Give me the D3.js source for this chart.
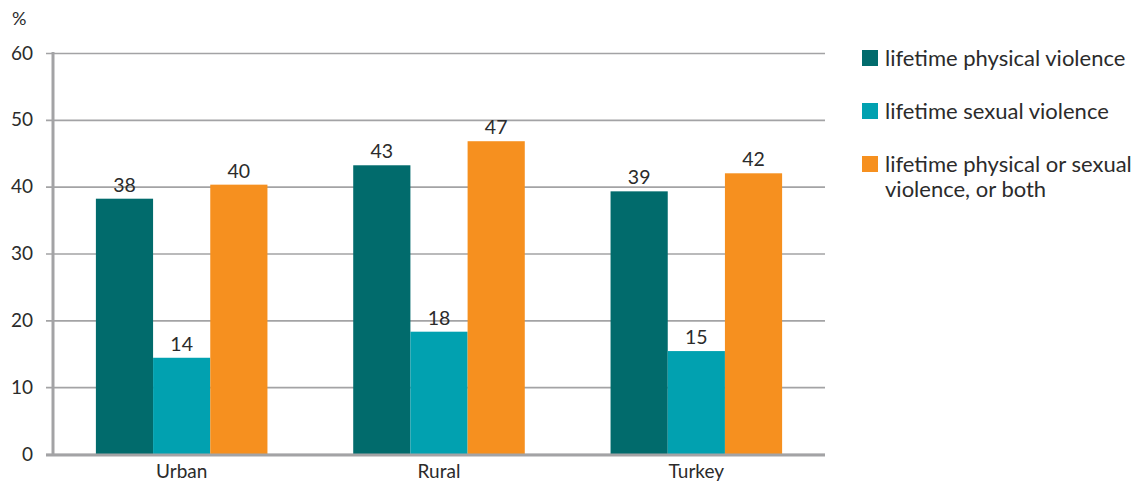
<!DOCTYPE html>
<html><head><meta charset="utf-8">
<script src="https://cdn.jsdelivr.net/npm/d3@7"></script>
<style>body{margin:0;background:#fff}svg{display:block}text{font-family:Lato,"Open Sans",sans-serif;fill:#2b2b2b}</style>
</head><body><div id="chart"></div>
<script>
const categories = ["Urban", "Rural", "Turkey"];
const seriesNames = ["lifetime physical violence", "lifetime sexual violence", "lifetime physical or sexual violence, or both"];
const physical = [38.2, 43.2, 39.3];
const sexual = [14.4, 18.3, 15.4];
const either = [40.3, 46.8, 42.0];
const labelsPhysical = ["38", "43", "39"];
const labelsSexual = ["14", "18", "15"];
const labelsEither = ["40", "47", "42"];
const yTicks = [0, 10, 20, 30, 40, 50, 60];
const colors = ["#016b6c", "#01a1b0", "#f6901f"];

const W = 1139, H = 485;
const m = {left: 53, right: 314, top: 53, bottom: 30};
const svg = d3.select("#chart").append("svg").attr("width", W).attr("height", H);
const x0 = d3.scaleBand().domain(categories).range([m.left, W - m.right]).paddingInner(0).paddingOuter(0);
const x1 = d3.scaleBand().domain([0,1,2]).range([0, x0.bandwidth()]).paddingOuter(0.75).paddingInner(0);
const y = d3.scaleLinear().domain([0, 60]).range([H - m.bottom - 1, m.top]);

// gridlines
const yAxis = d3.axisLeft(y).tickValues(yTicks).tickSize(-(W - m.right - m.left)).tickPadding(14);
const gy = svg.append("g").attr("transform", `translate(${m.left},0)`).call(yAxis);
gy.select(".domain").remove();
gy.selectAll(".tick line").attr("stroke", "#a3a3a5").attr("stroke-width", 1.6).attr("x1", -7);
gy.selectAll(".tick text").attr("font-size", 19).attr("x", -20);

const data = [physical, sexual, either];
const labels = [labelsPhysical, labelsSexual, labelsEither];
categories.forEach((c, i) => {
  const g = svg.append("g").attr("transform", `translate(${x0(c)},0)`);
  data.forEach((s, k) => {
    g.append("rect").attr("x", x1(k)).attr("width", x1.bandwidth())
      .attr("y", y(s[i])).attr("height", y(0) - y(s[i])).attr("fill", colors[k]);
    g.append("text").attr("x", x1(k) + x1.bandwidth()/2).attr("y", y(s[i]) - 7)
      .attr("text-anchor", "middle").attr("font-size", 19.5).text(labels[k][i]);
  });
});

// axes lines
svg.append("line").attr("x1", m.left).attr("x2", m.left).attr("y1", m.top - 1).attr("y2", y(0) + 2)
  .attr("stroke", "#a3a3a5").attr("stroke-width", 3);
svg.append("line").attr("x1", m.left - 7).attr("x2", W - m.right).attr("y1", y(0) + 1).attr("y2", y(0) + 1)
  .attr("stroke", "#a3a3a5").attr("stroke-width", 3);

// x axis labels
const xAxis = d3.axisBottom(x0).tickSize(0).tickPadding(9);
const gx = svg.append("g").attr("transform", `translate(0,${y(0) + 2})`).call(xAxis);
gx.select(".domain").remove();
gx.selectAll("text").attr("font-size", 19);

svg.append("text").attr("x", 12).attr("y", 25).attr("font-size", 18).text("%");

// legend
const lg = svg.append("g").attr("transform", "translate(862,0)");
const legendRows = [[seriesNames[0]], [seriesNames[1]], ["lifetime physical or sexual", "violence, or both"]];
const rowY = [58, 111, 164];
legendRows.forEach((lines, k) => {
  lg.append("rect").attr("x", 0).attr("y", rowY[k] - 8).attr("width", 16).attr("height", 16).attr("fill", colors[k]);
  lines.forEach((t, j) => {
    lg.append("text").attr("x", 23).attr("y", rowY[k] + 8 + j * 25).attr("font-size", 22).text(t);
  });
});
</script></body></html>
